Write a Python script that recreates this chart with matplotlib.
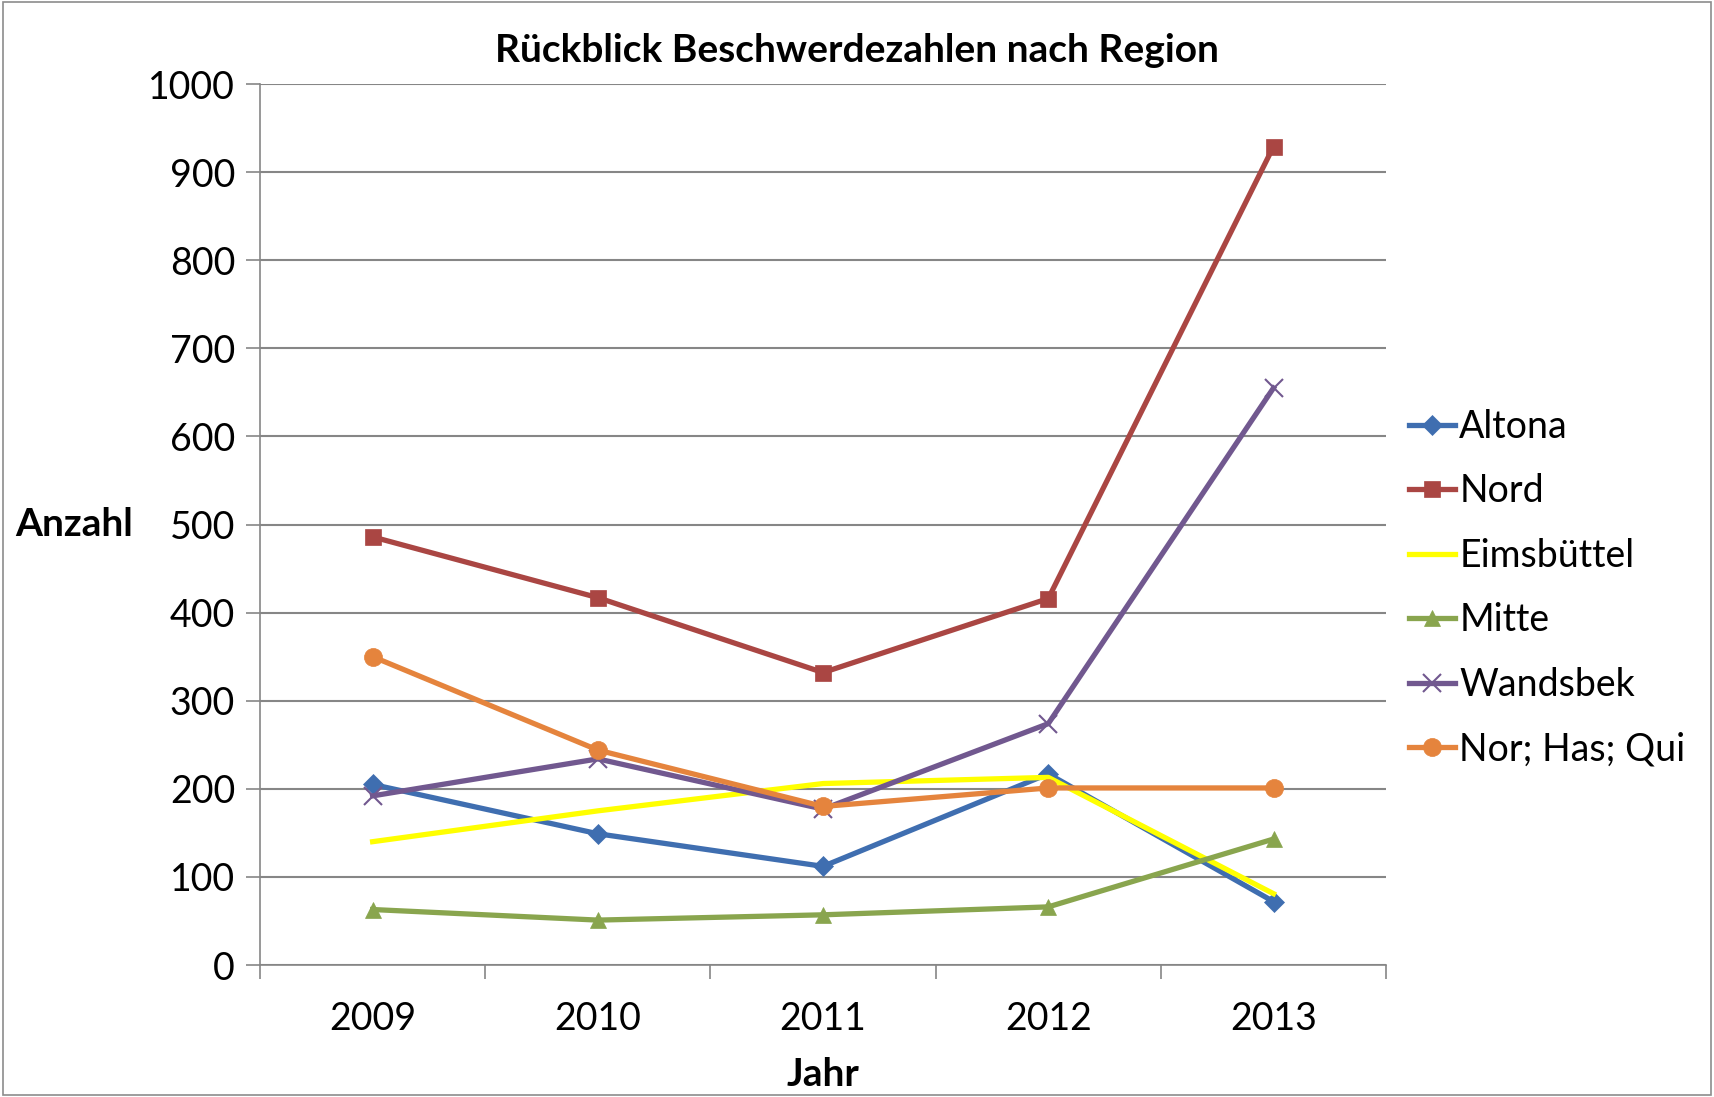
import matplotlib.pyplot as plt
from matplotlib.patches import Rectangle

plt.rcParams['font.family'] = ['Lato', 'DejaVu Sans']

years = ['2009', '2010', '2011', '2012', '2013']
altona = [205, 149, 112, 217, 72]
nord = [486, 417, 332, 416, 929]
eimsbuettel = [140, 175, 206, 213, 81]
mitte = [63, 51, 57, 66, 143]
wandsbek = [192, 234, 177, 274, 655]
nor_has_qui = [350, 244, 180, 201, 201]

names = ['Altona', 'Nord', 'Eimsbüttel', 'Mitte', 'Wandsbek', 'Nor; Has; Qui']
colors = ['#3F6EB0', '#AA4643', '#FFFF00', '#89A54E', '#71588F', '#E5843D']
markers = ['D', 's', None, '^', 'x', 'o']
sizes = [10, 12, 0, 12, 13, 13]


def main():
    fig = plt.figure(figsize=(17.14, 10.97), dpi=100)
    fig.patches.append(Rectangle((0.002, 0.002), 0.996, 0.996, transform=fig.transFigure,
                                 fill=False, edgecolor='#8c8c8c', linewidth=1.2))
    ax = fig.add_axes([0.1517, 0.1203, 0.657, 0.8031])

    x = list(range(len(years)))
    series = [altona, nord, eimsbuettel, mitte, wandsbek, nor_has_qui]
    for vals, name, c, m, s in zip(series, names, colors, markers, sizes):
        ax.plot(x, vals, color=c, linewidth=3.8, marker=m, markersize=s,
                markeredgewidth=1.5 if m == 'x' else 0.5,
                markeredgecolor=c, label=name, zorder=3)

    ax.set_xlim(-0.5, 4.5)
    ax.set_ylim(0, 1000)
    ax.set_yticks(range(0, 1001, 100))
    ax.set_xticks(x)
    ax.set_xticklabels(years)
    ax.set_xticks([i - 0.5 for i in range(6)], minor=True)
    ax.tick_params(axis='x', which='major', length=0, labelsize=27, pad=26)
    ax.tick_params(axis='x', which='minor', length=10, width=1.2, color='#868686')
    ax.tick_params(axis='y', length=10, width=1.2, color='#868686', labelsize=27, pad=8)
    ax.grid(axis='y', color='#868686', linewidth=1.5, zorder=0)

    for side in ['top', 'right']:
        ax.spines[side].set_visible(False)
    for side in ['left', 'bottom']:
        ax.spines[side].set_color('#868686')
        ax.spines[side].set_linewidth(1.2)

    ax.set_title('Rückblick Beschwerdezahlen nach Region', fontsize=28,
                 fontweight='bold', pad=16, x=0.53)
    ax.set_xlabel('Jahr', fontsize=28, fontweight='bold', labelpad=14)
    ax.set_ylabel('Anzahl', fontsize=28, fontweight='bold', rotation=0, labelpad=0)
    ax.yaxis.set_label_coords(-0.165, 0.48)
    ax.yaxis.label.set_horizontalalignment('center')

    ax.legend(loc='center left', bbox_to_anchor=(0.99, 0.428), frameon=False,
              fontsize=27, handlelength=1.25, handletextpad=0.1, labelspacing=0.76)

    fig.savefig('out.png', dpi=100)


if __name__ == "__main__":
    main()
